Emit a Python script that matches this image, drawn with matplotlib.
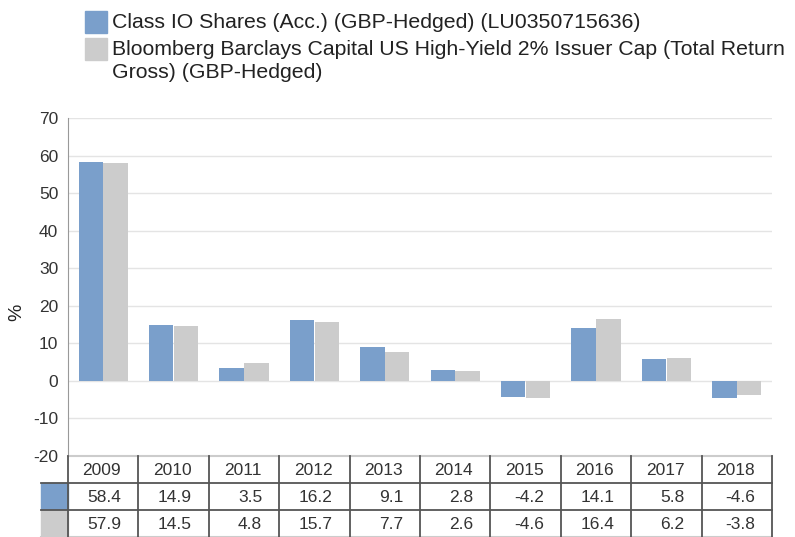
import matplotlib
matplotlib.use("Agg")
import matplotlib.pyplot as plt
from matplotlib.patches import Rectangle

plt.rcParams['font.family'] = ['Liberation Sans', 'DejaVu Sans']
plt.rcParams['axes.unicode_minus'] = False

years = ['2009', '2010', '2011', '2012', '2013', '2014', '2015', '2016', '2017', '2018']
fund = [58.4, 14.9, 3.5, 16.2, 9.1, 2.8, -4.2, 14.1, 5.8, -4.6]
bench = [57.9, 14.5, 4.8, 15.7, 7.7, 2.6, -4.6, 16.4, 6.2, -3.8]
series_names = ['Class IO Shares (Acc.) (GBP-Hedged) (LU0350715636)',
                'Bloomberg Barclays Capital US High-Yield 2% Issuer Cap (Total Return\nGross) (GBP-Hedged)']
colors = ['#7a9fcb', '#cccccc']

W, H = 795, 537
fig = plt.figure(figsize=(W / 100, H / 100), dpi=100)

ax_l, ax_r, ax_top, ax_bot = 68, 772, 118, 456
ax = fig.add_axes([ax_l / W, 1 - ax_bot / H, (ax_r - ax_l) / W, (ax_bot - ax_top) / H])
n = len(years)
x = list(range(n))
bw = 0.345
gap = 0.008
ax.bar([i - bw / 2 - gap / 2 for i in x], fund, width=bw, color=colors[0], zorder=3)
ax.bar([i + bw / 2 + gap / 2 for i in x], bench, width=bw, color=colors[1], zorder=3)
ax.set_xlim(-0.5, n - 0.5)
ax.set_ylim(-20, 70)
ax.set_yticks(range(-20, 71, 10))
ax.yaxis.grid(True, color='#e4e4e4', linewidth=1, zorder=0)
ax.set_xticks([])
for s in ['top', 'right', 'bottom']:
    ax.spines[s].set_visible(False)
ax.spines['left'].set_color('#999999')
ax.tick_params(axis='y', length=0, labelsize=12.5, colors='#333333', pad=7)
fig.text(17 / W, 1 - 312 / H, '%', rotation=90, fontsize=14, color='#222222',
         ha='center', va='center')

# table
t_top, t_bot = 456, 537
tab = fig.add_axes([41 / W, 0, (ax_r - 41) / W, (t_bot - t_top) / H])
unit = (ax_r - ax_l) / n  # px per category
left_x = -0.5 - (ax_l - 41) / unit
tab.set_xlim(left_x, n - 0.5)
tab.set_ylim(3, 0)
tab.axis('off')
dark = '#555555'
light = '#cccccc'
pad = 17 / unit
# swatches
tab.add_patch(Rectangle((left_x, 1), -0.5 - left_x, 1, color=colors[0], clip_on=False))
tab.add_patch(Rectangle((left_x, 2), -0.5 - left_x, 1, color=colors[1], clip_on=False))
# horizontal lines
tab.plot([-0.5, n - 0.5], [0, 0], color=light, lw=1.5, clip_on=False)
tab.plot([left_x, n - 0.5], [1, 1], color=dark, lw=1.3, clip_on=False)
tab.plot([left_x, n - 0.5], [2, 2], color=dark, lw=1.3, clip_on=False)
tab.plot([left_x, n - 0.5], [3, 3], color=light, lw=1.5, clip_on=False)
for i in range(n + 1):
    tab.plot([i - 0.5, i - 0.5], [0, 3], color=dark, lw=1.3, clip_on=False)
for i, yr in enumerate(years):
    tab.text(i - 0.02, 0.55, yr, ha='center', va='center', fontsize=12.5, color='#333333')
    tab.text(i + 0.5 - pad, 1.55, f'{fund[i]:.1f}', ha='right', va='center', fontsize=12.5, color='#333333')
    tab.text(i + 0.5 - pad, 2.55, f'{bench[i]:.1f}', ha='right', va='center', fontsize=12.5, color='#333333')

# legend
fig.patches.append(Rectangle((85 / W, 1 - 33 / H), 22 / W, 22 / H, transform=fig.transFigure, color=colors[0]))
fig.patches.append(Rectangle((85 / W, 1 - 60 / H), 22 / W, 22 / H, transform=fig.transFigure, color=colors[1]))
fig.text(112 / W, 1 - 22 / H, series_names[0], fontsize=15.3, va='center', ha='left', color='#222222')
fig.text(112 / W, 1 - 61 / H, series_names[1], fontsize=15.3, va='center', ha='left', color='#222222', linespacing=1.22)

fig.savefig('out.png', dpi=100)
